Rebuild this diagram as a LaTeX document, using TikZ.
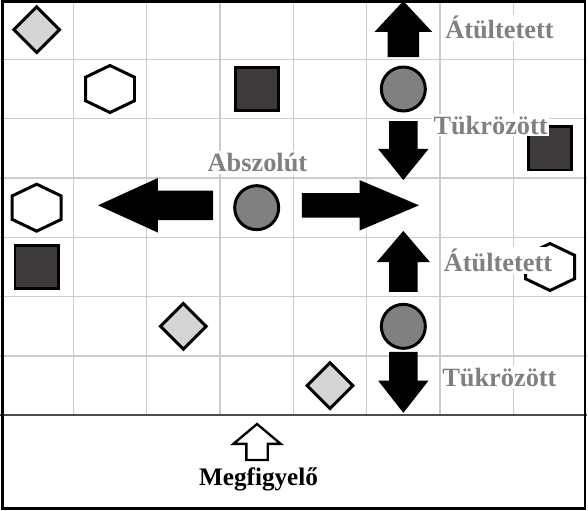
\documentclass[tikz,border=0pt]{standalone}
\usepackage{fontspec}
\setmainfont{Liberation Serif}
\usetikzlibrary{shapes.geometric, shapes.arrows}

\definecolor{rhombgray}{RGB}{212,212,212}
\definecolor{blockdark}{RGB}{62,58,58}
\definecolor{discgray}{RGB}{128,128,128}
\definecolor{gridgray}{RGB}{204,204,204}
\definecolor{labelgray}{RGB}{128,128,128}

\begin{document}
\begin{tikzpicture}[
    x=2.2cm, y=-1.78cm,
    gridline/.style={draw=gridgray, line width=1.2pt},
    divider/.style={draw=black!70, line width=1.5pt},
    tile/.style={draw, line width=2.55pt, inner sep=0pt, outer sep=0pt},
    rhomb/.style={tile, diamond, fill=rhombgray, minimum size=1.37cm},
    block/.style={tile, rectangle, fill=blockdark, minimum size=1.3cm},
    disc/.style={tile, circle, fill=discgray, minimum size=1.32cm},
    hexa/.style={draw, line width=2.55pt, fill=white},
    bigarrow/.style={
        single arrow,
        fill=black,
        inner xsep=0pt,
        outer sep=0pt,
        anchor=tail
    },
    lbl/.style={
        font=\bfseries\fontsize{22.5}{27}\selectfont,
        text=labelgray,
        fill=white,
        inner sep=1.5pt,
        anchor=base
    }
]
\useasboundingbox (0,0) rectangle (8.018,8.612);

% grid
\foreach \i in {1,...,7}
    \draw[gridline] (\i,0) -- (\i,7);
\foreach \j in {1,...,6}
    \draw[gridline] (0,\j) -- (8,\j);
\draw[divider] (0,7) -- (8,7);

% shapes on the board
\foreach \c/\r [count=\k] in {0/0, 2/5, 4/6}
    \node[rhomb] (rhomb\k) at (\c+0.5,\r+0.5) {};
\foreach \c/\r [count=\k] in {3/1, 7/2, 0/4}
    \node[block] (block\k) at (\c+0.5,\r+0.5) {};
\foreach \c/\r [count=\k] in {5/1, 3/3, 5/5}
    \node[disc] (disc\k) at (\c+0.5,\r+0.5) {};
\foreach \c/\r in {1/1, 0/3, 7/4}
    \draw[hexa] (\c+0.5,\r+0.5) +(0,-0.396) -- +(0.334,-0.198) -- +(0.334,0.198)
        -- +(0,0.396) -- +(-0.334,0.198) -- +(-0.334,-0.198) -- cycle;

% labels
\node[lbl] (atulfelso) at (6.81,0.657) {Átültetett};
\node[lbl] (tukrfelso) at (6.69,2.26) {Tükrözött};
\node[lbl] (abszolut) at (3.51,2.89) {Abszolút};
\node[lbl] (atulalso) at (6.79,4.58) {Átültetett};
\node[lbl] (tukralso) at (6.81,6.51) {Tükrözött};

% arrows
\node[bigarrow, rotate=90, minimum height=1.68cm, minimum width=1.71cm,
    inner ysep=0.465cm, single arrow head extend=0.39cm,
    single arrow tip angle=86] (upfelso) at (5.5,0.961) {};
\node[bigarrow, rotate=-90, minimum height=1.77cm, minimum width=1.5cm,
    inner ysep=0.42cm, single arrow head extend=0.33cm,
    single arrow tip angle=78] (lefelso) at (5.5,2.04) {};
\node[bigarrow, rotate=180, minimum height=3.45cm, minimum width=1.62cm,
    inner ysep=0.435cm, single arrow head extend=0.375cm,
    single arrow tip angle=49] (balra) at (2.905,3.46) {};
\node[bigarrow, minimum height=3.51cm, minimum width=1.5cm,
    inner ysep=0.36cm, single arrow head extend=0.39cm,
    single arrow tip angle=46] (jobbra) at (4.118,3.46) {};
\node[bigarrow, rotate=90, minimum height=1.83cm, minimum width=1.59cm,
    inner ysep=0.42cm, single arrow head extend=0.375cm,
    single arrow tip angle=81] (upalso) at (5.5,4.92) {};
\node[bigarrow, rotate=-90, minimum height=1.83cm, minimum width=1.5cm,
    inner ysep=0.42cm, single arrow head extend=0.33cm,
    single arrow tip angle=76] (lealso) at (5.5,5.93) {};

% observer
\node[bigarrow, draw, fill=white, line width=2pt, rotate=90,
    minimum height=1.08cm, minimum width=1.35cm,
    inner ysep=0.285cm, single arrow head extend=0.39cm,
    single arrow tip angle=100] (nezo) at (3.505,7.753) {};
\node[font=\bfseries\fontsize{21.5}{26}\selectfont, anchor=base] (megfigyelo)
    at (3.525,8.19) {Megfigyelő};

% frame
\draw[line width=2.55pt] (0.034,0.025) rectangle (7.977,8.562);

\end{tikzpicture}
\end{document}
